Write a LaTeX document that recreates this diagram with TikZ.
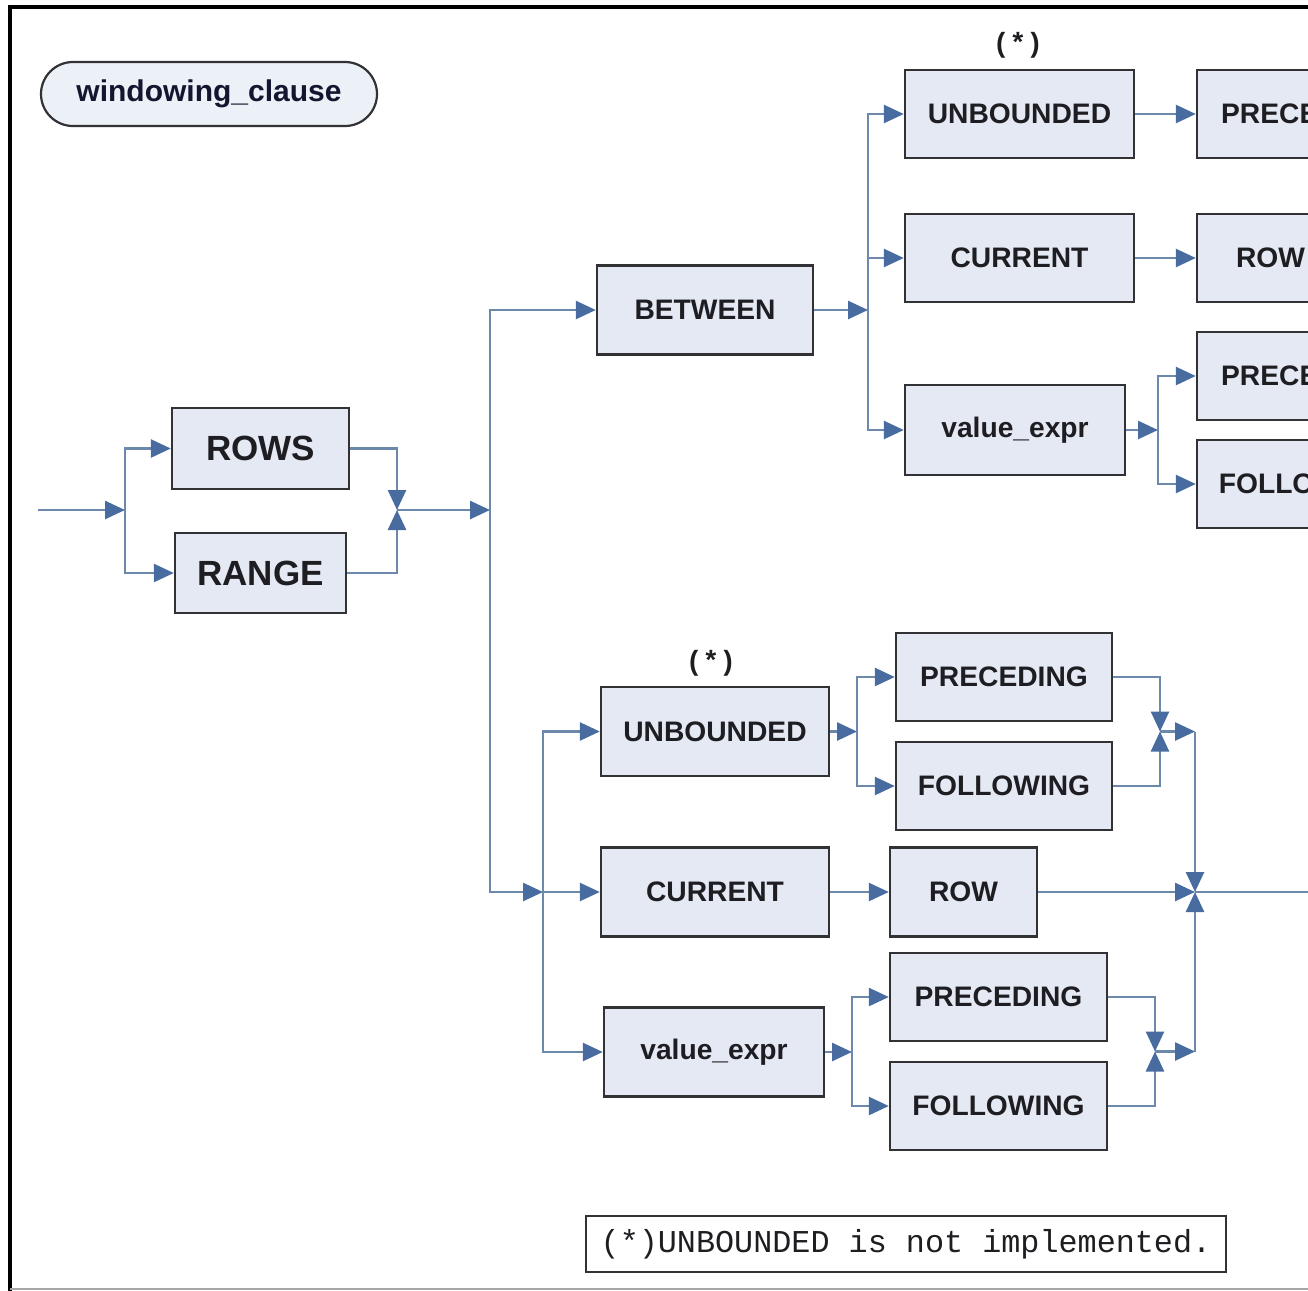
\documentclass[tikz,border=0pt]{standalone}
\usepackage{fontspec}
\setmainfont{Liberation Sans}
\newfontfamily\monofont{Liberation Mono}
\usetikzlibrary{arrows.meta}

\definecolor{boxfill}{RGB}{228,233,244}
\definecolor{boxline}{RGB}{50,50,52}
\definecolor{wire}{RGB}{108,136,170}
\definecolor{tipcol}{RGB}{72,108,160}
\definecolor{inkcol}{RGB}{30,30,34}
\definecolor{titleink}{RGB}{20,22,48}

\tikzset{
  kw/.style={draw=boxline, fill=boxfill, line width=1.2pt, inner sep=0pt,
    text=inkcol, font=\fontsize{14.1}{16}\selectfont\bfseries},
  bigkw/.style={kw, font=\fontsize{17.5}{20}\selectfont\bfseries},
  conn/.style={draw=wire, line width=1.3pt},
  arr/.style={conn, -{Triangle[length=10pt,width=9pt,fill=tipcol,color=tipcol]}},
  star/.style={inner sep=0pt, text=inkcol, font=\monofont\fontsize{13.9}{16}\selectfont\bfseries},
}

\begin{document}
\begin{tikzpicture}[x=0.5pt, y=-0.5pt]
\useasboundingbox (0,0) rectangle (1308,1291);
\fill[white] (0,0) rectangle (1308,1291);
\begin{scope}
\clip (0,0) rectangle (1308,1291);

% outer frame (open on the right)
\draw[line width=2pt, black] (10,1291) -- (10,7) -- (1320,7);
\draw[line width=0.8pt, black!35] (10,1289) -- (1320,1289);

% title
\node[draw=boxline, fill=boxfill!70!white, line width=1.1pt, rounded corners=16pt,
  minimum width=168pt, minimum height=32pt, inner sep=0pt, text=titleink,
  font=\fontsize{15}{18}\selectfont\bfseries] (title) at (209,94) {windowing\_clause};

% ROWS / RANGE
\node[bigkw, minimum width=88.5pt, minimum height=40.5pt] (rows)  at (260.5,448.5) {ROWS};
\node[bigkw, minimum width=85.5pt, minimum height=40pt]   (range) at (260.5,573) {RANGE};

% BETWEEN branch
\node[kw, minimum width=108pt, minimum height=44.5pt] (between) at (705,310) {BETWEEN};
\node[kw, minimum width=114.5pt, minimum height=44pt] (tUnb) at (1019.5,114) {UNBOUNDED};
\node[kw, minimum width=114.5pt, minimum height=44pt] (tCur) at (1019.5,258) {CURRENT};
\node[kw, minimum width=110pt, minimum height=45pt]   (tVal) at (1015,430) {value\_expr};
\node[kw, minimum width=108pt, minimum height=44pt] (tPreA) at (1305,114) {PRECEDING};
\node[kw, minimum width=73.5pt, minimum height=44pt] (tRow) at (1270.5,258) {ROW};
\node[kw, minimum width=108pt, minimum height=44pt] (tPreB) at (1305,376) {PRECEDING};
\node[kw, minimum width=108pt, minimum height=44pt] (tFol) at (1305,484) {FOLLOWING};
\node[star] (starA) at (1018,45) {(*)};

% single-bound branch
\node[kw, minimum width=114pt, minimum height=44.5pt] (bUnb) at (715,731.5) {UNBOUNDED};
\node[kw, minimum width=114pt, minimum height=44.5pt] (bCur) at (715,892) {CURRENT};
\node[kw, minimum width=110pt, minimum height=44.5pt] (bVal) at (714,1052) {value\_expr};
\node[kw, minimum width=108pt, minimum height=44pt] (bPreA) at (1004,677) {PRECEDING};
\node[kw, minimum width=108pt, minimum height=44pt] (bFolA) at (1004,786) {FOLLOWING};
\node[kw, minimum width=73.5pt, minimum height=44.5pt] (bRow) at (963.5,892) {ROW};
\node[kw, minimum width=108.5pt, minimum height=44pt] (bPreB) at (998.5,997) {PRECEDING};
\node[kw, minimum width=108.5pt, minimum height=44pt] (bFolB) at (998.5,1106) {FOLLOWING};
\node[star] (starB) at (711,663) {(*)};

% footnote
\node[draw=boxline, fill=white, line width=0.9pt, minimum width=320pt, minimum height=28pt,
  inner sep=0pt, text=inkcol, font=\monofont\fontsize{15.9}{18}\selectfont]
  (note) at (906,1244) {(*)UNBOUNDED is not implemented.};

% junction points
\coordinate (start) at (38,510);
\coordinate (s1) at (125,510);
\coordinate (m1) at (397,510);
\coordinate (s2) at (490,510);
\coordinate (s3) at (543,892);
\coordinate (s4) at (868,310);
\coordinate (s5) at (1158,430);
\coordinate (s6) at (857,731.5);
\coordinate (m2) at (1160,731.5);
\coordinate (j1) at (1195,731.5);
\coordinate (s7) at (852,1052);
\coordinate (m3) at (1155,1051.5);
\coordinate (j2) at (1195,1051.5);
\coordinate (J)  at (1195,892);
\coordinate (exit) at (1320,892);

% ROWS | RANGE
\draw[arr] (start) -- (s1);
\draw[arr] (s1) |- (rows.west);
\draw[arr] (s1) |- (range.west);
\draw[arr] (rows.east) -| (m1);
\draw[arr] (range.east) -| (m1);
\draw[arr] (m1) -- (s2);

% choice between BETWEEN and single bound
\draw[arr] (s2) |- (between.west);
\draw[arr] (s2) |- (s3);
\draw[arr] (s3) -- (bCur.west);
\draw[arr] (s3) |- (bUnb.west);
\draw[arr] (s3) |- (bVal.west);

% BETWEEN ...
\draw[arr] (between.east) -- (s4);
\draw[arr] (s4) |- (tUnb.west);
\draw[arr] (s4) -- (tCur.west -| s4) -- (tCur.west);
\draw[arr] (s4) |- (tVal.west);
\draw[arr] (tUnb.east) -- (tPreA.west);
\draw[arr] (tCur.east) -- (tRow.west);
\draw[arr] (tVal.east) -- (s5);
\draw[arr] (s5) |- (tPreB.west);
\draw[arr] (s5) |- (tFol.west);

% UNBOUNDED PRECEDING | FOLLOWING
\draw[arr] (bUnb.east) -- (s6);
\draw[arr] (s6) |- (bPreA.west);
\draw[arr] (s6) |- (bFolA.west);
\draw[arr] (bPreA.east) -| (m2);
\draw[arr] (bFolA.east) -| (m2);
\draw[arr] (m2) -- (j1);
\draw[arr] (j1) -- (J);

% CURRENT ROW
\draw[arr] (bCur.east) -- (bRow.west);
\draw[arr] (bRow.east) -- (J);

% value_expr PRECEDING | FOLLOWING
\draw[arr] (bVal.east) -- (s7);
\draw[arr] (s7) |- (bPreB.west);
\draw[arr] (s7) |- (bFolB.west);
\draw[arr] (bPreB.east) -| (m3);
\draw[arr] (bFolB.east) -| (m3);
\draw[arr] (m3) -- (j2);
\draw[arr] (j2) -- (J);

\draw[conn] (J) -- (exit);
\end{scope}
\end{tikzpicture}
\end{document}
